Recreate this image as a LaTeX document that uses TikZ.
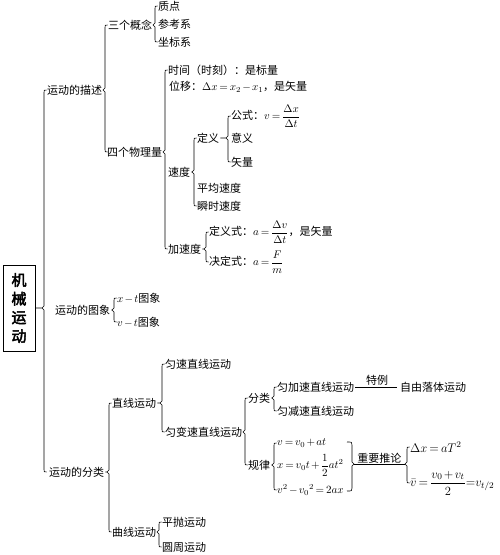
\RequirePackage{fix-cm}
\documentclass[tikz,border=0pt]{standalone}
\usepackage{amsmath}
\usepackage{fontspec}
\setmainfont{Noto Sans CJK SC}
\newfontfamily\titlefont[FakeBold=3]{Noto Sans CJK SC}
\usetikzlibrary{calc}
\newcommand{\tightmath}{\medmuskip=2mu\thickmuskip=3mu\thinmuskip=2mu}
\tikzset{
  n/.style={anchor=west,inner xsep=1pt,inner ysep=1pt,font=\fontsize{11}{13}\selectfont\tightmath},
  big/.style={n,font=\fontsize{12.5}{15}\selectfont\tightmath},
  brc/.style={draw=black,line width=0.6pt},
  conn/.style={draw=black,line width=0.6pt},
  titlebox/.style={draw=black,line width=0.8pt,minimum width=32pt,minimum height=86pt,align=center,inner sep=0pt,font=\titlefont\fontsize{15}{18.7}\selectfont}
}
\newcommand{\brc}[3]{%
  \draw[brc] let \p1=(#1.east), \p2=(#2.west), \p3=(#3.west) in
  ({\x2+0.5pt},\y2) .. controls ({\x2-2pt},\y2) .. ({\x2-2pt},{\y2-2.5pt})
  -- ({\x2-2pt},{\y1+2pt}) -- ({\x2-4pt},\y1) -- ({\x2-2pt},{\y1-2pt})
  -- ({\x2-2pt},{\y3+2.5pt}) .. controls ({\x2-2pt},\y3) .. ({\x2+0.5pt},\y3)
  ({\x2-4pt},\y1) -- (\x1,\y1);}
\begin{document}
\begin{tikzpicture}[x=1pt,y=-1pt]
\useasboundingbox (0,0) rectangle (500,555);
% title
\node[titlebox] (title) at (19,308) {机\\械\\运\\动};
% level 1
\node[n] (miaoshu) at (46,90) {运动的描述};
\node[n] (tuxiang) at (54,310) {运动的图象};
\node[n] (fenlei) at (48,472) {运动的分类};
% 描述
\node[n] (gainian) at (107,25) {三个概念};
\node[n] (zhidian) at (157,6) {质点};
\node[n] (cankao) at (157,24) {参考系};
\node[n] (zuobiao) at (157,42) {坐标系};
\node[n] (wuli) at (106,152) {四个物理量};
\node[n] (shijian) at (167,70) {时间（时刻）：是标量};
\node[n] (weiyi) at (168,87) {位移：$\Delta x=x_2-x_1$，是矢量};
\node[n] (sudu) at (167,172) {速度};
\node[n] (dingyi) at (196,138) {定义};
\node[n] (gongshi) at (230,116) {公式：$v=\dfrac{\Delta x}{\Delta t}$};
\node[n] (yiyi) at (230,138) {意义};
\node[n] (shiliang) at (230,162) {矢量};
\node[n] (pingjun) at (196,188) {平均速度};
\node[n] (shunshi) at (196,206) {瞬时速度};
\node[n] (jiasudu) at (167,249) {加速度};
\node[n] (dyshi) at (208,232) {定义式：$a=\dfrac{\Delta v}{\Delta t}$，是矢量};
\node[n] (jdshi) at (208,262) {决定式：$a=\dfrac{F}{m}$};
% 图象
\node[n] (xt) at (116,298) {$x-t$图象};
\node[n] (vt) at (116,322) {$v-t$图象};
% 分类
\node[n] (zhixian) at (111,403) {直线运动};
\node[n] (yunsu) at (164,364) {匀速直线运动};
\node[n] (bianshu) at (164,432) {匀变速直线运动};
\node[n] (flei) at (247,398) {分类};
\node[n] (guilv) at (247,465) {规律};
\node[n] (jia) at (276,387) {匀加速直线运动};
\node[n] (jian) at (276,411) {匀减速直线运动};
\node[n] (ziyou) at (399,387) {自由落体运动};
\node[n] (eqa) at (276,443) {$v=v_0+at$};
\node[n] (eqb) at (276,465) {$x=v_0t+\dfrac{1}{2}at^2$};
\node[n] (eqc) at (276,490) {$v^2-{v_0}^2=2ax$};
\node[big] (dx) at (409,447) {$\Delta x=aT^2$};
\node[big] (vbar) at (409,483) {$\bar v=\dfrac{v_0+v_t}{2}{=}v_{t/2}$};
\node[n] (quxian) at (111,532) {曲线运动};
\node[n] (pingpao) at (161,522) {平抛运动};
\node[n] (yuanzhou) at (161,547) {圆周运动};
\node[inner sep=0pt,minimum size=0pt] (tl) at (405,464) {};
\coordinate (rbt) at (354,464);
% braces
\brc{title}{miaoshu}{fenlei}
\brc{miaoshu}{gainian}{wuli}
\brc{gainian}{zhidian}{zuobiao}
\brc{wuli}{shijian}{jiasudu}
\brc{sudu}{dingyi}{shunshi}
\brc{dingyi}{gongshi}{shiliang}
\brc{jiasudu}{dyshi}{jdshi}
\brc{tuxiang}{xt}{vt}
\brc{fenlei}{zhixian}{quxian}
\brc{zhixian}{yunsu}{bianshu}
\brc{bianshu}{flei}{guilv}
\brc{flei}{jia}{jian}
\brc{guilv}{eqa}{eqc}
\brc{quxian}{pingpao}{yuanzhou}
\brc{tl}{dx}{vbar}
% right brace of the equations
\draw[brc] (347,442) .. controls (352,442) .. (352,445) -- (352,462) -- (rbt) -- (352,466) -- (352,488) .. controls (352,491) .. (347,491);
% connectors
\draw[conn] (rbt) -- node[above,inner sep=0.5pt,font=\fontsize{11}{13}\selectfont] {重要推论} (tl);
\draw[conn,shorten >=2pt] (jia.east) -- node[above,inner sep=1pt,font=\fontsize{11}{13}\selectfont] {特例} (ziyou.west);
\end{tikzpicture}
\end{document}
